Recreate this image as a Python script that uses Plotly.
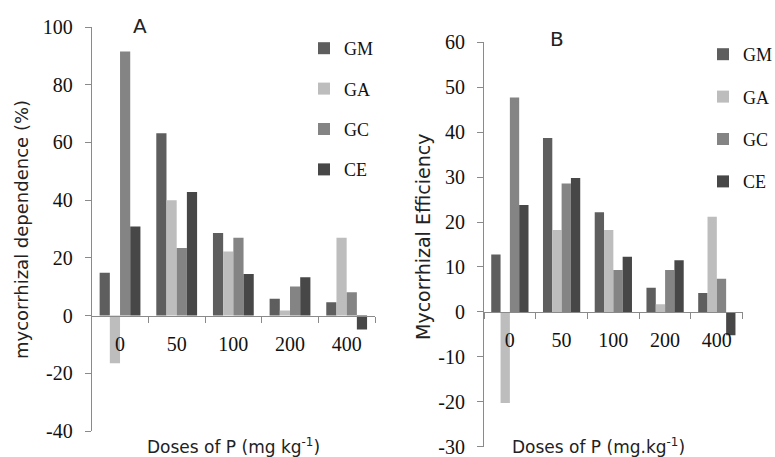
import plotly.graph_objects as go

# ---------------- data ----------------
doses = ["0", "50", "100", "200", "400"]
series_names = ["GM", "GA", "GC", "CE"]

# Panel A: mycorrhizal dependence (%)
dep_GM = [14.8, 63.2, 28.6, 5.8, 4.6]
dep_GA = [-16.5, 40.0, 22.2, 1.8, 27.0]
dep_GC = [91.5, 23.4, 27.0, 10.1, 8.1]
dep_CE = [30.9, 42.8, 14.4, 13.3, -4.8]

# Panel B: mycorrhizal efficiency
eff_GM = [12.8, 38.7, 22.2, 5.4, 4.2]
eff_GA = [-20.3, 18.2, 18.2, 1.7, 21.2]
eff_GC = [47.7, 28.6, 9.3, 9.3, 7.4]
eff_CE = [23.8, 29.8, 12.3, 11.5, -5.2]

dep_ticks = [-40, -20, 0, 20, 40, 60, 80, 100]
eff_ticks = [-30, -20, -10, 0, 10, 20, 30, 40, 50, 60]

colors = ["#5e5e5e", "#bdbdbd", "#848484", "#474747"]

# ---------------- layout geometry (pixels) ----------------
W, H = 775, 457
A_x0, A_x1, A_ytop, A_ybot = 91.7, 375.0, 27.0, 431.0
B_x0, B_x1, B_ytop, B_ybot = 484.0, 742.7, 42.3, 446.7
A_range = [-40, 100]
B_range = [-30, 60]


def xd(p):
    return p / W


def yd(p):
    return (H - p) / H


def zero_pos(ytop, ybot, rng):
    frac = (0 - rng[0]) / (rng[1] - rng[0])
    return yd(ybot) + frac * (yd(ytop) - yd(ybot))


serif = "Liberation Serif"
sans = "DejaVu Sans"
axis_col = "#8a8a8a"

fig = go.Figure()

dep_series = [dep_GM, dep_GA, dep_GC, dep_CE]
eff_series = [eff_GM, eff_GA, eff_GC, eff_CE]

for name, vals, col in zip(series_names, dep_series, colors):
    fig.add_trace(go.Bar(
        x=doses, y=vals, name=name, marker=dict(color=col, line=dict(width=0)),
        xaxis="x", yaxis="y", legend="legend", legendgroup="A_" + name,
    ))
for name, vals, col in zip(series_names, eff_series, colors):
    fig.add_trace(go.Bar(
        x=doses, y=vals, name=name, marker=dict(color=col, line=dict(width=0)),
        xaxis="x2", yaxis="y2", legend="legend2", legendgroup="B_" + name,
    ))

xcommon = dict(
    type="category", tickson="boundaries", ticks="outside", ticklen=6,
    tickcolor=axis_col, showline=True, linecolor=axis_col, linewidth=1,
    showgrid=False, zeroline=False, anchor="free", automargin=False,
    tickfont=dict(family=serif, size=20, color="#111111"),
    ticklabelstandoff=10, ticklabeloverflow="allow",
)
ycommon = dict(
    ticks="outside", ticklen=6, tickcolor=axis_col, showline=True,
    linecolor=axis_col, linewidth=1, showgrid=False, zeroline=False,
    automargin=False, ticklabeloverflow="allow",
    tickfont=dict(family=serif, size=20, color="#111111"),
    ticklabelstandoff=8,
)

fig.update_layout(
    width=W, height=H,
    margin=dict(l=0, r=0, t=0, b=0, autoexpand=False),
    paper_bgcolor="white", plot_bgcolor="white",
    barmode="group", bargap=0.28, bargroupgap=0,
    xaxis=dict(xcommon, domain=[xd(A_x0), xd(A_x1)],
               position=zero_pos(A_ytop, A_ybot, A_range)),
    yaxis=dict(ycommon, domain=[yd(A_ybot), yd(A_ytop)], range=A_range,
               tickvals=dep_ticks, ticktext=[str(v) for v in dep_ticks],
               anchor="x"),
    xaxis2=dict(xcommon, domain=[xd(B_x0), xd(B_x1)],
                position=zero_pos(B_ytop, B_ybot, B_range)),
    yaxis2=dict(ycommon, domain=[yd(B_ybot), yd(B_ytop)], range=B_range,
                tickvals=eff_ticks, ticktext=[str(v) for v in eff_ticks],
                anchor="x2"),
    legend=dict(x=xd(304), y=yd(30), xanchor="left", yanchor="top",
                font=dict(family=serif, size=18, color="#111111"),
                tracegroupgap=14, bgcolor="rgba(0,0,0,0)"),
    legend2=dict(x=xd(703), y=yd(36), xanchor="left", yanchor="top",
                 font=dict(family=serif, size=18, color="#111111"),
                 tracegroupgap=16, bgcolor="rgba(0,0,0,0)"),
    showlegend=True,
)


def ann(x, y, text, size, angle=0):
    fig.add_annotation(x=xd(x), y=yd(y), xref="paper", yref="paper", text=text,
                       showarrow=False, xanchor="center", yanchor="middle",
                       textangle=angle,
                       font=dict(family=sans, size=size, color="#222222"))


ann(140, 26, "A", 20)
ann(557, 39, "B", 20)
ann(233, 446, "Doses of P (mg kg<sup>-1</sup>)", 17)
ann(598, 446, "Doses of P (mg.kg<sup>-1</sup>)", 17)
ann(22, 230, "mycorrhizal dependence (%)", 18, -90)
ann(423, 237, "Mycorrhizal Efficiency", 19, -90)

fig.write_html("out.html")
